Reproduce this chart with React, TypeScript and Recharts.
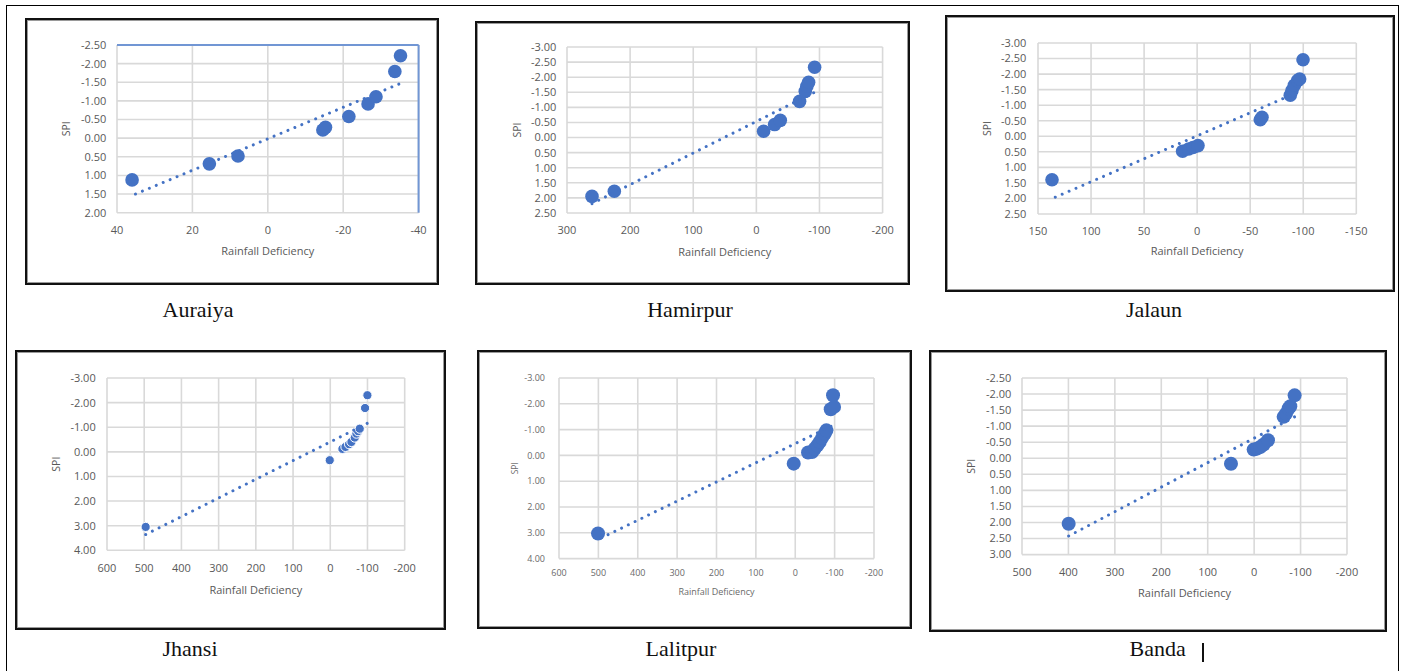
import React from 'react';
import { ScatterChart, Scatter, XAxis, YAxis, CartesianGrid, ReferenceLine } from 'recharts';

const BLUE = '#4472C4';

// ---------- Auraiya ----------
const auraiyaRain = [36.0, 15.5, 7.9, -14.6, -15.3, -21.5, -26.6, -28.7, -33.7, -35.2];
const auraiyaSpi = [1.12, 0.69, 0.48, -0.22, -0.29, -0.58, -0.92, -1.11, -1.79, -2.21];
const auraiyaTrendRain = [35.1, -35.2];
const auraiyaTrendSpi = [1.5, -1.47];
const auraiyaXTicks = [40, 20, 0, -20, -40];
const auraiyaYTicks = [-2.5, -2, -1.5, -1, -0.5, 0, 0.5, 1, 1.5, 2];

// ---------- Hamirpur ----------
const hamirpurRain = [260.4, 225, -11.5, -28.9, -37.9, -68.5, -77.5, -80, -82.8, -92.3];
const hamirpurSpi = [1.95, 1.78, -0.21, -0.43, -0.57, -1.2, -1.53, -1.7, -1.83, -2.33];
const hamirpurTrendRain = [260.4, -92.3];
const hamirpurTrendSpi = [2.19, -1.5];
const hamirpurXTicks = [300, 200, 100, 0, -100, -200];
const hamirpurYTicks = [-3, -2.5, -2, -1.5, -1, -0.5, 0, 0.5, 1, 1.5, 2, 2.5];

// ---------- Jalaun ----------
const jalaunRain = [136.8, 13.7, 8.0, 3.9, -0.8, -59.5, -61.1, -87.8, -89.4, -91.6, -94.7, -96.6, -99.8];
const jalaunSpi = [1.4, 0.48, 0.41, 0.36, 0.3, -0.53, -0.61, -1.32, -1.47, -1.64, -1.79, -1.84, -2.46];
const jalaunTrendRain = [133.7, -99.8];
const jalaunTrendSpi = [1.96, -1.49];
const jalaunXTicks = [150, 100, 50, 0, -50, -100, -150];
const jalaunYTicks = [-3, -2.5, -2, -1.5, -1, -0.5, 0, 0.5, 1, 1.5, 2, 2.5];

// ---------- Jhansi ----------
const jhansiRain = [496.1, 1.4, -32.6, -40.8, -50.5, -56.8, -65.8, -70.3, -74.7, -79.2, -93.5, -99.8];
const jhansiSpi = [3.05, 0.34, -0.12, -0.2, -0.31, -0.4, -0.58, -0.74, -0.84, -0.94, -1.78, -2.3];
const jhansiTrendRain = [496.1, -99.8];
const jhansiTrendSpi = [3.36, -1.16];
const jhansiXTicks = [600, 500, 400, 300, 200, 100, 0, -100, -200];
const jhansiYTicks = [-3, -2, -1, 0, 1, 2, 3, 4];

// ---------- Lalitpur ----------
const lalitpurRain = [500.9, 3.9, -32.5, -42.7, -49.4, -56.2, -62.1, -68.1, -74.8, -79.1, -90.1, -98.6, -96.0];
const lalitpurSpi = [3.03, 0.32, -0.11, -0.13, -0.26, -0.39, -0.52, -0.68, -0.84, -0.97, -1.79, -1.88, -2.33];
const lalitpurTrendRain = [492.5, -98.6];
const lalitpurTrendSpi = [3.2, -1.19];
const lalitpurXTicks = [600, 500, 400, 300, 200, 100, 0, -100, -200];
const lalitpurYTicks = [-3, -2, -1, 0, 1, 2, 3, 4];

// ---------- Banda ----------
const bandaRain = [399.5, 49.9, 1.1, -6.1, -13.3, -20.5, -29.8, -63.5, -68.6, -74.3, -77.9, -87.2];
const bandaSpi = [2.04, 0.17, -0.27, -0.3, -0.35, -0.43, -0.56, -1.29, -1.39, -1.55, -1.62, -1.96];
const bandaTrendRain = [399.5, -87.2];
const bandaTrendSpi = [2.42, -1.29];
const bandaXTicks = [500, 400, 300, 200, 100, 0, -100, -200];
const bandaYTicks = [-2.5, -2, -1.5, -1, -0.5, 0, 0.5, 1, 1.5, 2, 2.5, 3];

const districtNames = ['Auraiya', 'Hamirpur', 'Jalaun', 'Jhansi', 'Lalitpur', 'Banda'];
const xTitle = 'Rainfall Deficiency';
const yTitle = 'SPI';

type Box = { l: number; t: number; r: number; b: number };
type PanelCfg = {
  name: string;
  rain: number[];
  spi: number[];
  tRain: number[];
  tSpi: number[];
  xTicks: number[];
  yTicks: number[];
  plot: Box;
  spiX: number;
  titleBase: number;
  tickDy: number;
  yGap: number;
  fs: number;
  textColor: string;
  r: number;
  whiteEdge?: boolean;
  blueBorder?: boolean;
  box: Box;
  capX: number;
  capBase: number;
};

const panels: PanelCfg[] = [
  {
    name: districtNames[0], rain: auraiyaRain, spi: auraiyaSpi, tRain: auraiyaTrendRain, tSpi: auraiyaTrendSpi,
    xTicks: auraiyaXTicks, yTicks: auraiyaYTicks,
    plot: { l: 116.7, t: 45, r: 418.3, b: 212.7 }, spiX: 65.7, titleBase: 255.5, tickDy: 17.3, yGap: 10.7,
    fs: 11, textColor: '#595959', r: 6.8, blueBorder: true,
    box: { l: 24.5, t: 17.5, r: 439, b: 285 }, capX: 198, capBase: 317.7,
  },
  {
    name: districtNames[1], rain: hamirpurRain, spi: hamirpurSpi, tRain: hamirpurTrendRain, tSpi: hamirpurTrendSpi,
    xTicks: hamirpurXTicks, yTicks: hamirpurYTicks,
    plot: { l: 566.7, t: 47.3, r: 882.3, b: 213.3 }, spiX: 516.7, titleBase: 256, tickDy: 17.4, yGap: 10.7,
    fs: 11, textColor: '#595959', r: 6.8,
    box: { l: 475, t: 20.5, r: 909.5, b: 284.5 }, capX: 690, capBase: 317.7,
  },
  {
    name: districtNames[2], rain: jalaunRain, spi: jalaunSpi, tRain: jalaunTrendRain, tSpi: jalaunTrendSpi,
    xTicks: jalaunXTicks, yTicks: jalaunYTicks,
    plot: { l: 1037.7, t: 43.3, r: 1356, b: 214.3 }, spiX: 986.7, titleBase: 255.7, tickDy: 16.7, yGap: 11.7,
    fs: 11, textColor: '#595959', r: 6.8,
    box: { l: 945, t: 14.5, r: 1395, b: 292 }, capX: 1154, capBase: 317.7,
  },
  {
    name: districtNames[3], rain: jhansiRain, spi: jhansiSpi, tRain: jhansiTrendRain, tSpi: jhansiTrendSpi,
    xTicks: jhansiXTicks, yTicks: jhansiYTicks,
    plot: { l: 107.3, t: 377.7, r: 405, b: 550 }, spiX: 56.7, titleBase: 593.3, tickDy: 17.7, yGap: 11.3,
    fs: 11, textColor: '#595959', r: 4.6, whiteEdge: true,
    box: { l: 15, t: 350, r: 445.5, b: 630 }, capX: 190, capBase: 656.7,
  },
  {
    name: districtNames[4], rain: lalitpurRain, spi: lalitpurSpi, tRain: lalitpurTrendRain, tSpi: lalitpurTrendSpi,
    xTicks: lalitpurXTicks, yTicks: lalitpurYTicks,
    plot: { l: 559.3, t: 377.7, r: 874.3, b: 558.3 }, spiX: 515, titleBase: 595, tickDy: 14.4, yGap: 14,
    fs: 9, textColor: '#6a6a6a', r: 7,
    box: { l: 476.5, t: 350, r: 912, b: 629 }, capX: 681, capBase: 656.7,
  },
  {
    name: districtNames[5], rain: bandaRain, spi: bandaSpi, tRain: bandaTrendRain, tSpi: bandaTrendSpi,
    xTicks: bandaXTicks, yTicks: bandaYTicks,
    plot: { l: 1021.7, t: 377.7, r: 1346.7, b: 554.3 }, spiX: 971, titleBase: 597, tickDy: 17.4, yGap: 10.7,
    fs: 11, textColor: '#595959', r: 7,
    box: { l: 929, t: 350, r: 1387, b: 632 }, capX: 1157.7, capBase: 656.7,
  },
];

const FONT = '"Open Sans", "Noto Sans", sans-serif';
const Y_W = 60;
const X_H = 50;
const M_T = 10;
const M_R = 30;

function PanelChart({ p }: { p: PanelCfg }) {
  const plotW = p.plot.r - p.plot.l;
  const plotH = p.plot.b - p.plot.t;
  const w = plotW + Y_W + M_R;
  const h = plotH + M_T + X_H;
  const left = p.plot.l - Y_W;
  const top = p.plot.t - M_T;
  const pts = p.rain.map((x, i) => ({ x, y: p.spi[i] }));
  const trend = p.tRain.map((x, i) => ({ x, y: p.tSpi[i] }));
  const xDom = [Math.min(...p.xTicks), Math.max(...p.xTicks)];
  const yDom = [Math.min(...p.yTicks), Math.max(...p.yTicks)];
  const tickStyle = { fontSize: p.fs, fill: p.textColor, fontFamily: FONT };
  const titleFs = p.fs;
  const spiFs = p.fs === 11 ? 10.5 : 8.5;

  const spiLabel = () => (
    <text
      x={p.spiX - left}
      y={M_T + plotH / 2}
      transform={`rotate(-90, ${p.spiX - left}, ${M_T + plotH / 2})`}
      textAnchor="middle"
      dominantBaseline="central"
      fontSize={spiFs}
      fill={p.textColor}
      fontFamily={FONT}
    >
      {yTitle}
    </text>
  );
  const xLabel = () => (
    <text
      x={Y_W + plotW / 2}
      y={p.titleBase - top}
      textAnchor="middle"
      fontSize={titleFs}
      fill={p.textColor}
      fontFamily={FONT}
    >
      {xTitle}
    </text>
  );

  return (
    <div style={{ position: 'absolute', left, top, width: w, height: h }}>
      <ScatterChart width={w} height={h} margin={{ top: M_T, right: M_R, bottom: 0, left: 0 }}>
        <CartesianGrid stroke="#d9d9d9" strokeWidth={1.6} />
        <XAxis
          type="number"
          dataKey="x"
          domain={xDom}
          ticks={p.xTicks}
          interval={0}
          reversed
          allowDataOverflow
          axisLine={false}
          tickLine={false}
          tickSize={0}
          tickMargin={p.tickDy - 0.355 * p.fs}
          height={X_H}
          tick={tickStyle}
          label={xLabel}
        />
        <YAxis
          type="number"
          dataKey="y"
          domain={yDom}
          ticks={p.yTicks}
          interval={0}
          reversed
          allowDataOverflow
          axisLine={false}
          tickLine={false}
          tickSize={0}
          tickMargin={p.yGap}
          width={Y_W}
          tick={tickStyle}
          tickFormatter={(v: number) => v.toFixed(2)}
          label={spiLabel}
        />
        {p.blueBorder && <ReferenceLine y={yDom[0]} stroke="#7196d4" strokeWidth={2} />}
        {p.blueBorder && <ReferenceLine x={xDom[0]} stroke="#7196d4" strokeWidth={2} />}
        <Scatter
          data={pts}
          isAnimationActive={false}
          shape={(props: any) => (
            <circle
              cx={props.cx}
              cy={props.cy}
              r={p.r}
              fill={BLUE}
              stroke={p.whiteEdge ? '#ffffff' : 'none'}
              strokeWidth={p.whiteEdge ? 1 : 0}
            />
          )}
        />
        <Scatter
          data={trend}
          isAnimationActive={false}
          line={{ stroke: BLUE, strokeWidth: 3, strokeDasharray: '0.01 7.5', strokeLinecap: 'round' }}
          shape={() => <g />}
        />
      </ScatterChart>
    </div>
  );
}

export default function App() {
  return (
    <div
      style={{
        position: 'absolute',
        left: 0,
        top: 0,
        width: 1402,
        height: 671,
        background: '#ffffff',
        overflow: 'hidden',
      }}
    >
      <div
        style={{
          position: 'absolute',
          left: 6,
          top: 5,
          width: 1393,
          height: 700,
          boxSizing: 'border-box',
          borderTop: '1.5px solid #000',
          borderLeft: '1.5px solid #000',
          borderRight: '1.5px solid #000',
        }}
      />
      {panels.map((p) => (
        <div
          key={'box-' + p.name}
          style={{
            position: 'absolute',
            left: p.box.l,
            top: p.box.t,
            width: p.box.r - p.box.l,
            height: p.box.b - p.box.t,
            boxSizing: 'border-box',
            border: '2px solid #111',
            boxShadow: 'inset 0 0 0 1px #9a9a9a',
          }}
        />
      ))}
      {panels.map((p) => (
        <PanelChart key={'chart-' + p.name} p={p} />
      ))}
      {panels.map((p) => (
        <div
          key={'cap-' + p.name}
          style={{
            position: 'absolute',
            left: p.capX - 100,
            top: p.capBase - 18.4,
            width: 200,
            textAlign: 'center',
            fontFamily: '"Liberation Serif", "Times New Roman", serif',
            fontSize: 22,
            lineHeight: '22px',
            color: '#111',
            whiteSpace: 'nowrap',
          }}
        >
          {p.name}
        </div>
      ))}
      <div
        style={{
          position: 'absolute',
          left: 1202,
          top: 643,
          width: 1.5,
          height: 19,
          background: '#111',
        }}
      />
    </div>
  );
}
